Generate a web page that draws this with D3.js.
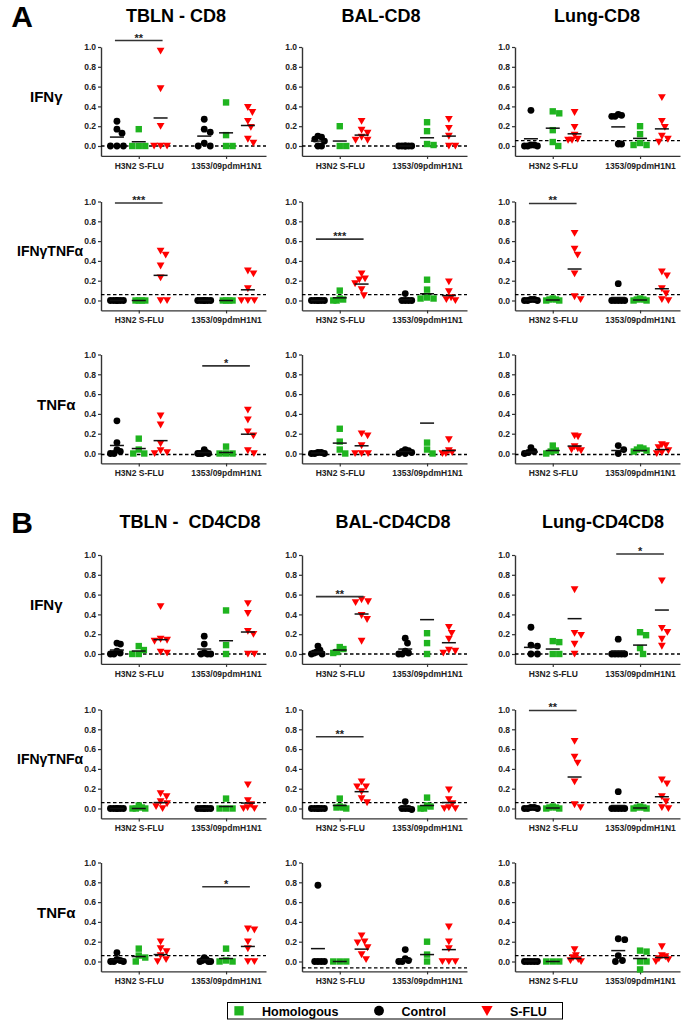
<!DOCTYPE html>
<html><head><meta charset="utf-8">
<script src="https://cdn.jsdelivr.net/npm/d3@7"></script>
<style>
body{margin:0;background:#fff}
svg{font-family:"Liberation Sans",Arial,sans-serif;display:block}
text{white-space:pre}
</style>
</head><body><svg id="c" width="682" height="1020"></svg>
<script>
// ---------- labels ----------
const sections = ["A","B"];
const tissuesA = ["TBLN - CD8","BAL-CD8","Lung-CD8"];
const tissuesB = ["TBLN -  CD4CD8","BAL-CD4CD8","Lung-CD4CD8"];
const cytokines = ["IFNγ","IFNγTNFα","TNFα"];
const viruses = ["H3N2 S-FLU","1353/09pdmH1N1"];
const treatments = ["Control","Homologous","S-FLU"];
const legendOrder = ["Homologous","Control","S-FLU"];
const yTicks = [0,0.2,0.4,0.6,0.8,1.0];

// ---------- values: [H3N2 Control, H3N2 Homologous, H3N2 S-FLU, 1353 Control, 1353 Homologous, 1353 S-FLU]
const A_TBLN_IFNg = [[0.25,0.17,0.13,0,0,0],[0.17,0,0,0],[0.96,0.58,0.2,0,0,0],[0.27,0.17,0.14,0.03,0,0],[0.44,0.11,0,0],[0.39,0.34,0.25,0.19,0.07,0.03]];
const A_TBLN_IFNg_mean = [0.09,0.043,0.283,0.1,0.133,0.207];
const A_BAL_IFNg = [[0.1,0.09,0.07,0.05,0,0],[0.2,0,0],[0.25,0.16,0.13,0.09,0.06,0.06],[0,0,0,0,0,0],[0.24,0.15,0.02,0.01],[0.27,0.18,0.1,0,0]];
const A_BAL_IFNg_mean = [0.05,0.05,0.11,0,0.083,0.1];
const A_Lung_IFNg = [[0.36,0.01,0.01,0,0,0],[0.35,0.33,0.16,0.04,0],[0.34,0.19,0.11,0.07,0.06,0.06],[0.32,0.31,0.3,0.3,0.02,0.02],[0.2,0.12,0.03,0.01,0.01],[0.49,0.25,0.19,0.1,0.07,0.04]];
const A_Lung_IFNg_mean = [0.073,0.18,0.123,0.193,0.077,0.173];

const A_TBLN_IFNgTNFa = [[0,0,0,0,0,0],[0,0,0,0],[0.5,0.46,0.35,0.23,0,0],[0,0,0,0,0,0],[0,0,0,0],[0.3,0.27,0.12,0,0,0]];
const A_TBLN_IFNgTNFa_mean = [0,0,0.254,0,0,0.108];
const A_BAL_IFNgTNFa = [[0,0,0,0,0,0],[0.1,0.02,0.01,0,0],[0.27,0.22,0.21,0.17,0.11,0.05],[0.07,0,0,0,0],[0.21,0.11,0.03,0.02,0.02],[0.19,0.09,0.03,0.01,0]];
const A_BAL_IFNgTNFa_mean = [0,0.027,0.166,0.01,0.068,0.05];
const A_Lung_IFNgTNFa = [[0.01,0.01,0,0,0],[0.02,0.01,0.01,0,0],[0.68,0.52,0.46,0.27,0.04,0.01],[0.17,0,0,0,0,0],[0.02,0.01,0.01,0,0],[0.29,0.25,0.12,0.07,0.01,0]];
const A_Lung_IFNgTNFa_mean = [0.005,0.005,0.318,0.03,0.005,0.119];

const A_TBLN_TNFa = [[0.33,0.11,0.04,0.02,0,0],[0.15,0.04,0,0],[0.38,0.29,0.1,0.03,0.01,0],[0.04,0.01,0,0,0,0],[0.07,0,0,0],[0.44,0.34,0.22,0.18,0.03,0]];
const A_TBLN_TNFa_mean = [0.081,0.05,0.13,0.01,0.01,0.195];
const A_BAL_TNFa = [[0.01,0.01,0,0,0],[0.25,0.12,0.04,0],[0.2,0.18,0.08,0,0,0],[0.04,0.03,0.02,0.01,0,0],[0.11,0.04,0],[0.14,0.03,0.01,0,0]];
const A_BAL_TNFa_mean = [0.005,0.105,0.078,0.02,0.307,0.03];
const A_Lung_TNFa = [[0.06,0.02,0.01,0],[0.08,0.03,0.02,0],[0.18,0.17,0.07,0.05,0.04,0.03],[0.08,0.04,0],[0.06,0.05,0.04,0.03,0.02],[0.09,0.08,0.06,0.03,0.01,0]];
const A_Lung_TNFa_mean = [0.015,0.03,0.075,0.03,0.03,0.04];

const B_TBLN_IFNg = [[0.11,0.1,0.03,0.01,0,0],[0.08,0.04,0,0],[0.48,0.15,0.14,0.13,0.02,0.01],[0.18,0.1,0.01,0,0,0],[0.44,0.09,0],[0.51,0.41,0.23,0.2,0,0]];
const B_TBLN_IFNg_mean = [0.04,0.03,0.145,0.05,0.134,0.222];
const B_BAL_IFNg = [[0.08,0.04,0.02,0.01,0,0],[0.07,0.05,0.02,0.01],[0.55,0.53,0.52,0.39,0.35,0.13],[0.16,0.11,0.03,0.01,0,0],[0.21,0.11,0],[0.27,0.21,0.15,0.04,0.03,0.01]];
const B_BAL_IFNg_mean = [0.02,0.04,0.404,0.05,0.347,0.114];
const B_Lung_IFNg = [[0.27,0.09,0.08,0,0],[0.13,0.12,0,0],[0.65,0.21,0.19,0.1,0],[0.15,0,0,0,0,0],[0.22,0.19,0.06,0],[0.74,0.26,0.22,0.15,0.08]];
const B_Lung_IFNg_mean = [0.067,0.05,0.357,0.03,0.09,0.444];

const B_TBLN_IFNgTNFa = [[0,0,0,0,0,0],[0.03,0.01,0,0,0],[0.15,0.12,0.07,0.05,0.02,0],[0,0,0,0,0,0],[0.1,0,0,0],[0.24,0.08,0.04,0.01,0,0]];
const B_TBLN_IFNgTNFa_mean = [0,0,0.06,0,0.02,0.055];
const B_BAL_IFNgTNFa = [[0,0,0,0,0,0],[0.1,0.02,0.01,0.01,0],[0.27,0.22,0.22,0.17,0.1,0.06],[0.07,0,0,-0.01,0],[0.11,0.03,0.02,0,0],[0.19,0.09,0.05,0.01,0,0]];
const B_BAL_IFNgTNFa_mean = [0,0.03,0.17,0.01,0.03,0.06];
const B_Lung_IFNgTNFa = [[0.01,0.01,0,0,0],[0.02,0.01,0.01,0,0],[0.68,0.52,0.46,0.27,0.04,0.01],[0.17,0,0,0,0,0],[0.02,0.01,0.01,0,0],[0.29,0.25,0.12,0.07,0.01,0]];
const B_Lung_IFNgTNFa_mean = [0.005,0.005,0.318,0.03,0.005,0.119];

const B_TBLN_TNFa = [[0.09,0.02,0.01,0,0,0],[0.13,0.06,0.04,0],[0.2,0.13,0.1,0.06,0.02,0],[0.04,0.02,0.01,0,0,0],[0.13,0.01,0,0],[0.33,0.32,0.2,0.13,0,0]];
const B_TBLN_TNFa_mean = [0.02,0.05,0.07,0.02,0.03,0.152];
const B_BAL_TNFa = [[0.77,0,0,0,0],[0,0,0],[0.26,0.2,0.19,0.14,0.07,0.02],[0.12,0.03,0.01,0,0],[0.2,0.07,0],[0.35,0.2,0.13,0,0,0]];
const B_BAL_TNFa_mean = [0.13,0,0.125,0.02,0.07,0.12];
const B_Lung_TNFa = [[0,0,0,0,0],[0,0,0],[0.12,0.06,0.04,0.02,0.01,0],[0.23,0.22,0.06,0.01,0],[0.11,0.1,0,0,-0.08],[0.15,0.06,0.05,0.03,0.02,0]];
const B_Lung_TNFa_mean = [0.005,0,0.03,0.11,0.03,0.04];

// dashed cut-off per [row][column]
const cutoffA = [[0,0,0.055],[0.06,0.06,0.06],[-0.01,-0.01,-0.01]];
const cutoffB = [[0,0,0],[0.06,0.06,0.06],[0.06,-0.065,0.06]];

// significance brackets (Control vs S-FLU)
const sigSection = ["A","A","A","A","A","B","B","B","B","B"];
const sigRow     = [0,1,1,1,2,0,0,1,1,2];
const sigCol     = [0,0,1,2,0,1,2,1,2,0];
const sigVirus   = [0,0,0,0,1,0,1,0,0,1];
const sigLevel   = [1.065,0.985,0.62,0.98,0.885,0.58,1.01,0.725,0.99,0.755];
const sigStars   = ["**","***","***","**","*","**","*","**","**","*"];

// ---------- assembly ----------
const panelsA = [[A_TBLN_IFNg,A_BAL_IFNg,A_Lung_IFNg],[A_TBLN_IFNgTNFa,A_BAL_IFNgTNFa,A_Lung_IFNgTNFa],[A_TBLN_TNFa,A_BAL_TNFa,A_Lung_TNFa]];
const meansA = [[A_TBLN_IFNg_mean,A_BAL_IFNg_mean,A_Lung_IFNg_mean],[A_TBLN_IFNgTNFa_mean,A_BAL_IFNgTNFa_mean,A_Lung_IFNgTNFa_mean],[A_TBLN_TNFa_mean,A_BAL_TNFa_mean,A_Lung_TNFa_mean]];
const panelsB = [[B_TBLN_IFNg,B_BAL_IFNg,B_Lung_IFNg],[B_TBLN_IFNgTNFa,B_BAL_IFNgTNFa,B_Lung_IFNgTNFa],[B_TBLN_TNFa,B_BAL_TNFa,B_Lung_TNFa]];
const meansB = [[B_TBLN_IFNg_mean,B_BAL_IFNg_mean,B_Lung_IFNg_mean],[B_TBLN_IFNgTNFa_mean,B_BAL_IFNgTNFa_mean,B_Lung_IFNgTNFa_mean],[B_TBLN_TNFa_mean,B_BAL_TNFa_mean,B_Lung_TNFa_mean]];

const svg = d3.select("#c");
const colX = [101, 302, 515];
const rowTop = {A:[47,201.5,354.5], B:[555,709.5,862.5]};
const PW = 165, UNIT = 99;
const slots = [0,1,2,4,5,6];
const color = {"Control":"#000000","Homologous":"#1fb41f","S-FLU":"#ff0000"};
const axisColor = "#333";

function marker(sel, t, cx, cy, s) {
  if (t === "Control") sel.append("circle").attr("cx",cx).attr("cy",cy).attr("r",3.4*s).attr("fill",color[t]);
  else if (t === "Homologous") sel.append("rect").attr("x",cx-3.2*s).attr("y",cy-3.2*s).attr("width",6.4*s).attr("height",6.4*s).attr("fill",color[t]);
  else sel.append("path").attr("d",`M${cx-3.9*s},${cy-3.3*s}L${cx+3.9*s},${cy-3.3*s}L${cx},${cy+3.6*s}Z`).attr("fill",color[t]);
}

function swarm(vals, y) {
  const pts = vals.map(v => ({v, py: y(v), dx: 0})).sort((a,b) => a.py - b.py);
  const placed = [];
  const D = 6.6;
  pts.forEach(p => {
    for (let k = 0; k < 80; k++) {
      const c = k === 0 ? 0 : (k % 2 ? 1 : -1) * Math.ceil(k/2) * 0.5;
      if (placed.every(q => Math.hypot(q.dx - c, q.py - p.py) >= D)) { p.dx = c; break; }
    }
    placed.push(p);
  });
  const m = d3.max(placed, p => Math.abs(p.dx));
  const lim = 6.5;
  if (m > lim) placed.forEach(p => p.dx *= lim / m);
  return placed;
}

function drawPanel(sec, r, c, pts, means, cutoff) {
  const top = rowTop[sec][r];
  const g = svg.append("g").attr("transform", `translate(${colX[c]},0)`);
  const y = d3.scaleLinear().domain([-0.1, 1.0]).range([top + UNIT*1.1, top]);
  const x = d3.scaleLinear().domain([-0.73, 6.83]).range([0, PW]);

  const ya = g.append("g").call(d3.axisLeft(y).tickValues(yTicks).tickFormat(d3.format(".1f")).tickSize(3).tickSizeOuter(0).tickPadding(2));
  const xa = g.append("g").attr("transform", `translate(0,${y(-0.1)})`)
    .call(d3.axisBottom(x).tickValues([1,5]).tickFormat((d,i) => viruses[i]).tickSize(3).tickSizeOuter(0).tickPadding(4));
  [ya, xa].forEach(a => {
    a.select(".domain").attr("stroke", axisColor).attr("stroke-width", 1.4);
    a.selectAll(".tick line").attr("stroke", axisColor).attr("stroke-width", 1.2);
    a.selectAll("text").attr("fill", "#222").attr("font-weight", "bold").attr("font-size", 8.5).attr("font-family", null);
  });

  g.append("line").attr("x1", 0).attr("x2", PW).attr("y1", y(cutoff)).attr("y2", y(cutoff))
    .attr("stroke", "#000").attr("stroke-width", 1.3).attr("stroke-dasharray", "3.5,2.5");

  pts.forEach((vals, gi) => {
    const t = treatments[gi % 3];
    const cx = x(slots[gi]);
    swarm(vals, y).forEach(p => marker(g, t, cx + p.dx, p.py, 1));
  });
  means.forEach((m, gi) => {
    const cx = x(slots[gi]);
    g.append("line").attr("x1", cx - 7).attr("x2", cx + 7).attr("y1", y(m)).attr("y2", y(m))
      .attr("stroke", "#111").attr("stroke-width", 1.5);
  });
  return {g, x, y};
}

const refs = {A: [], B: []};
sections.forEach(sec => {
  const P = sec === "A" ? panelsA : panelsB;
  const M = sec === "A" ? meansA : meansB;
  const C = sec === "A" ? cutoffA : cutoffB;
  for (let r = 0; r < 3; r++) {
    refs[sec][r] = [];
    for (let c = 0; c < 3; c++) refs[sec][r][c] = drawPanel(sec, r, c, P[r][c], M[r][c], C[r][c]);
  }
});

sigSection.forEach((sec, i) => {
  const {g, x, y} = refs[sec][sigRow[i]][sigCol[i]];
  const x1 = x(slots[sigVirus[i]*3]) - 2, x2 = x(slots[sigVirus[i]*3 + 2]) + 2;
  const yy = y(sigLevel[i]);
  g.append("line").attr("x1", x1).attr("x2", x2).attr("y1", yy).attr("y2", yy).attr("stroke", "#333").attr("stroke-width", 1.6);
  g.append("text").attr("x", (x1 + x2) / 2).attr("y", yy + 1).attr("text-anchor", "middle")
    .attr("font-size", 11).attr("font-weight", "bold").attr("fill", "#222").text(sigStars[i]);
});

const secBase = {A: 27, B: 533};
const titleBase = {A: 22, B: 528};
const titleX = {A: [176, 381, 597], B: [190, 393, 603]};
sections.forEach(sec => {
  svg.append("text").attr("x", 22).attr("y", secBase[sec]).attr("text-anchor", "middle")
    .attr("font-size", 30).attr("font-weight", "bold").text(sec);
  const names = sec === "A" ? tissuesA : tissuesB;
  names.forEach((n, c) => {
    svg.append("text").attr("x", titleX[sec][c]).attr("y", titleBase[sec]).attr("text-anchor", "middle")
      .attr("font-size", 18).attr("font-weight", "bold").text(n);
  });
  const labelX = [30, 17, 37];
  const labelFs = [15, 14, 15];
  cytokines.forEach((cy, r) => {
    svg.append("text").attr("x", labelX[r]).attr("y", rowTop[sec][r] + 50).attr("dy", "0.35em")
      .attr("font-size", labelFs[r]).attr("font-weight", "bold").text(cy);
  });
});

const lg = svg.append("g");
lg.append("rect").attr("x", 227.5).attr("y", 1002.5).attr("width", 335).attr("height", 16.5)
  .attr("fill", "none").attr("stroke", "#000").attr("stroke-width", 1);
const legX = [239, 379, 487];
const legTX = [262, 401.5, 510];
legendOrder.forEach((t, i) => {
  marker(lg, t, legX[i], 1010.8, 1.45);
  lg.append("text").attr("x", legTX[i]).attr("y", 1015.5).attr("font-size", 12.5).attr("font-weight", "bold").text(t);
});
</script>
</body></html>
